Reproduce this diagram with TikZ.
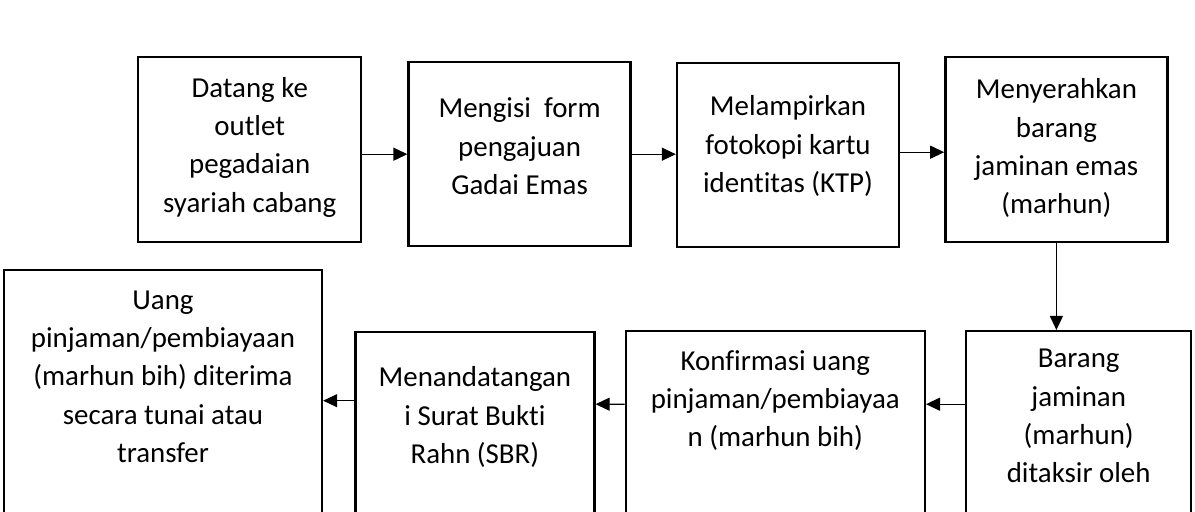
\documentclass[tikz,border=0pt]{standalone}
\usepackage{fontspec}
\setmainfont{Carlito}[Ligatures=NoCommon]
\usetikzlibrary{positioning,arrows.meta}

\begin{document}
\begin{tikzpicture}[x=1bp, y=-1bp,
	box/.style={rectangle, draw=black, line width=2.4bp, inner sep=0pt, anchor=north west},
	txt/.style={align=center, inner sep=0pt, font=\fontsize{29}{38.5}\selectfont},
	arr/.style={line width=1.2bp, -{Triangle[length=14bp, width=13bp]}}
	]
	\useasboundingbox (0,0) rectangle (1195,512);
	\clip (0,0) rectangle (1195,512);
	% upper row
	\node[box, minimum width=223bp, minimum height=185bp] (b1) at (137,56) {};
	\node[box, minimum width=222bp, minimum height=184bp] (b2) [right=45bp of b1.north east, anchor=north west, yshift=-5bp] {};
	\node[box, minimum width=222bp, minimum height=184bp] (b3) [right=44bp of b2.north east, anchor=north west, yshift=-1bp] {};
	\node[box, minimum width=222bp, minimum height=185bp] (b4) [right=44bp of b3.north east, anchor=north west, yshift=6bp] {};
	% lower row
	\node[box, minimum width=225bp, minimum height=200bp] (b5) at (965,330) {};
	\node[box, minimum width=299bp, minimum height=200bp] (b6) [left=39bp of b5.north west, anchor=north east] {};
	\node[box, minimum width=239bp, minimum height=200bp] (b7) [left=29bp of b6.north west, anchor=north east, yshift=-1bp] {};
	\node[box, minimum width=318bp, minimum height=261bp] (b8) [left=31bp of b7.north west, anchor=north east, yshift=62bp] {};
	% texts
	\node[txt] (t1) at ([yshift=2.5bp]b1.center) {Datang ke\\outlet\\pegadaian\\syariah cabang};
	\node[txt] (t2) at ([yshift=8bp]b2.center) {Mengisi\ \ form\\pengajuan\\Gadai Emas};
	\node[txt] (t3) at ([yshift=9bp]b3.center) {Melampirkan\\fotokopi kartu\\identitas (KTP)};
	\node[txt] (t4) at ([yshift=1.5bp]b4.center) {Menyerahkan\\barang\\jaminan emas\\(marhun)};
	\node[txt] (t5) at ([yshift=15bp]b5.center) {Barang\\jaminan\\(marhun)\\ditaksir oleh};
	\node[txt] (t6) at ([yshift=30.5bp]b6.center) {Konfirmasi uang\\pinjaman/pembiayaa\\n (marhun bih)};
	\node[txt] (t7) at ([yshift=15bp]b7.center) {Menandatangan\\i Surat Bukti\\Rahn (SBR)};
	\node[txt] (t8) at ([yshift=24bp]b8.center) {Uang\\pinjaman/pembiayaan\\(marhun bih) diterima\\secara tunai atau\\transfer};
	% arrows
	\draw[arr] (b1.east |- b2.west) -- (b2.west);
	\draw[arr] (b2.east) -- (b3.west |- b2.east);
	\draw[arr] ([yshift=3bp]b3.east) -- ([yshift=3bp]b3.east -| b4.west);
	\draw[arr] (b4.south) -- (b4.south |- b5.north);
	\draw[arr] ([yshift=27bp]b5.west) -- ([yshift=27bp]b6.east);
	\draw[arr] ([yshift=27bp]b6.west) -- ([yshift=28bp]b7.east);
	\draw[arr] (b7.west |- b8.east) -- (b8.east);
\end{tikzpicture}
\end{document}
